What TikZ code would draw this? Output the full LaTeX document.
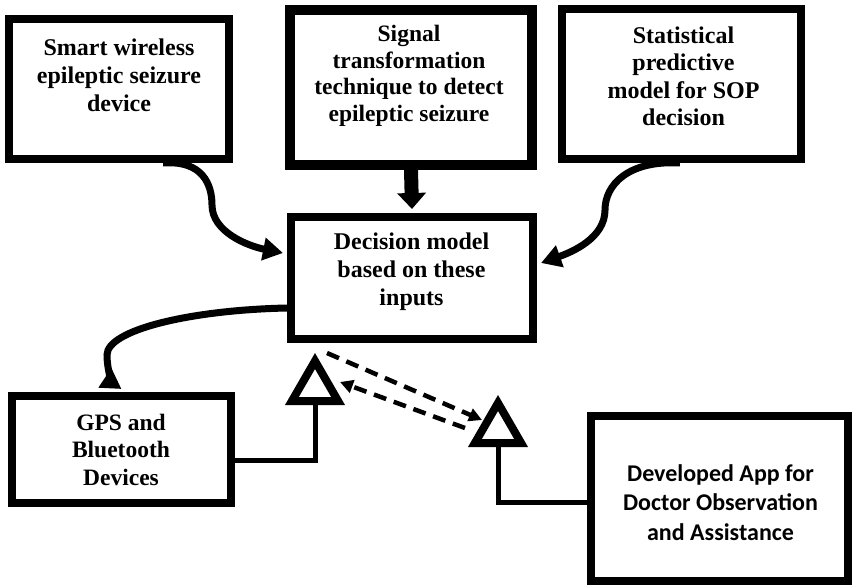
\documentclass[tikz,border=0pt]{standalone}
\usepackage{fontspec}
\setmainfont{Liberation Serif}
\newfontfamily\appfont{Carlito}
\usetikzlibrary{arrows.meta,shapes.geometric}
\begin{document}
\begin{tikzpicture}[x=1pt,y=-1pt,
  frame/.style={draw=black, line width=8pt, inner sep=0pt},
  caption/.style={font=\bfseries\fontsize{24}{28}\selectfont, align=center, inner sep=0pt},
  link/.style={line width=7pt, -{Triangle[length=20pt,width=22pt]}},
  stem/.style={line width=5pt},
  ddash/.style={line width=4.5pt, dash pattern=on 13pt off 8pt, -{Triangle[length=13pt,width=13pt]}},
  tri/.style={regular polygon, regular polygon sides=3, draw=black, line width=8pt,
              minimum size=53.4pt, inner sep=0pt, fill=white}]
% canvas
\path[use as bounding box, fill=white] (0,0) rectangle (853,586);

% boxes
\node[frame, minimum width=220pt, minimum height=140pt] (box1) at (119,89) {};
\node[frame, line width=10pt, minimum width=242pt, minimum height=155pt] (box2) at (411,87.5) {};
\node[frame, minimum width=239pt, minimum height=150pt] (box3) at (681.5,84) {};
\node[frame, minimum width=242pt, minimum height=122pt] (dec) at (412,278) {};
\node[frame, minimum width=219pt, minimum height=107pt] (gps) at (121.5,449.5) {};
\node[frame, minimum width=257pt, minimum height=165pt] (app) at (719.5,498.5) {};

% texts
\node[caption] (t1) at (119,75) {Smart wireless\\epileptic seizure\\device};
\node[caption, font=\bfseries\fontsize{23.5}{26.5}\selectfont] (t2) at (409,76) {Signal\\transformation\\technique to detect\\epileptic seizure};
\node[caption, font=\bfseries\fontsize{24}{27.5}\selectfont] (t3) at (683.5,76.5) {Statistical\\predictive\\model for SOP\\decision};
\node[caption] (td) at (411.5,271.5) {Decision model\\based on these\\inputs};
\node[caption, font=\bfseries\fontsize{23.5}{27.5}\selectfont] (tg) at (121,449.5) {GPS and\\Bluetooth\\Devices};
\node[caption, font=\appfont\bfseries\fontsize{24}{29.5}\selectfont] (ta) at (720.5,502.5) {Developed App for\\Doctor Observation\\and Assistance};

% triangles
\node[tri] (tri1) at (315,387.7) {};
\node[tri] (tri2) at (498,429.7) {};

% inputs into the decision model
\draw[link] ([xshift=44pt]box1.south) .. controls (203,160) and (212,185) .. (212,205)
  .. controls (212,232) and (248,246) .. ([xshift=-4pt,yshift=25pt]dec.west);
\draw[line width=14pt, -{Triangle[length=16pt,width=28pt]}] (box2.south) -- ([yshift=4pt]dec.north);
\draw[link] ([xshift=-1.5pt]box3.south) .. controls (628,160) and (605,185) .. (605,210)
  .. controls (605,238) and (572,252) .. ([xshift=4pt,yshift=15pt]dec.east);

% decision model to the devices
\draw[link] ([yshift=-30pt]dec.west) .. controls (190,310) and (107,330) .. (107,355)
  .. controls (107,372) and (114,384) .. ([yshift=3pt]gps.north);

% stems to the triangles
\draw[stem] (tri1.south) |- ([yshift=-10.5pt]gps.east);
\draw[stem] (tri2.south) |- ([yshift=-3.5pt]app.west);

% exchange between the two sides
\coordinate (dA1) at (327,353);
\coordinate (dA2) at (482,420);
\coordinate (dB1) at (465,428);
\coordinate (dB2) at (340,382);
\draw[ddash] (dA1) -- (dA2);
\draw[ddash] (dB1) -- (dB2);
\end{tikzpicture}
\end{document}
